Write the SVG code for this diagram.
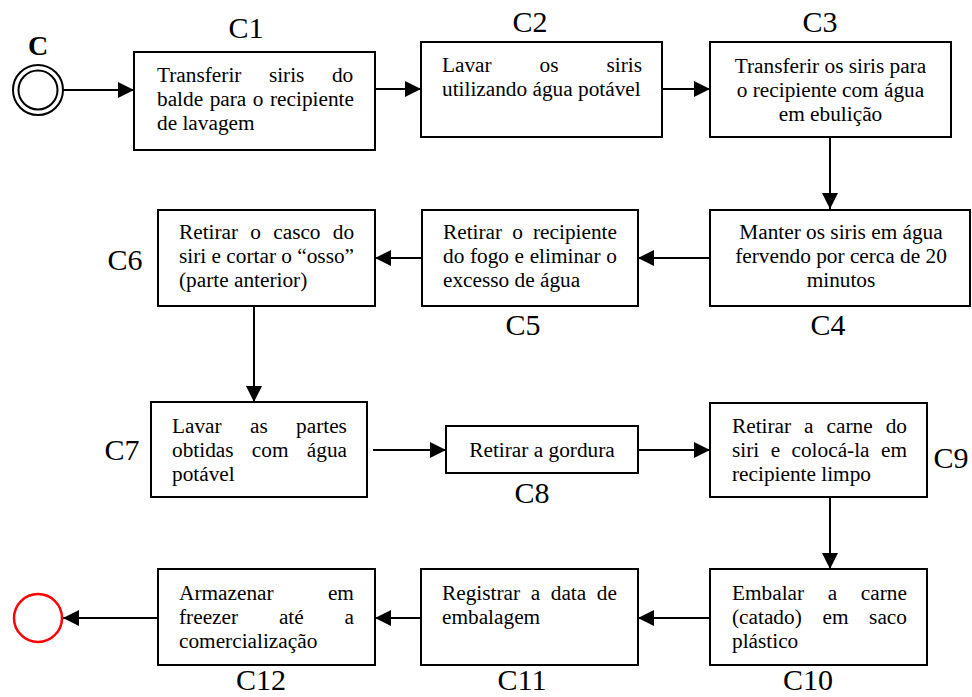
<svg xmlns="http://www.w3.org/2000/svg" width="972" height="697" viewBox="0 0 972 697">
<style>
.box{fill:#fff;stroke:#000;stroke-width:2}
.t{font-family:"Liberation Serif","Times New Roman",serif;font-size:21.3px;fill:#000}
.c{text-anchor:middle}
.lbl{font-family:"Liberation Serif","Times New Roman",serif;font-size:30px;fill:#000;text-anchor:middle}
.con{stroke:#000;stroke-width:2;fill:none;marker-end:url(#ah)}
</style>
<defs>
<marker id="ah" markerUnits="userSpaceOnUse" markerWidth="17" markerHeight="16" refX="16" refY="8" orient="auto">
<path d="M0,0 L16,8 L0,16 Z" fill="#000"/>
</marker>
</defs>
<rect width="972" height="697" fill="#fff"/>

<g id="start">
<circle cx="38" cy="90" r="25" fill="#fff" stroke="#000" stroke-width="2"/>
<circle cx="38" cy="90" r="19.5" fill="none" stroke="#000" stroke-width="2"/>
<text x="38" y="55" style="font-family:'Liberation Serif',serif;font-size:28px;font-weight:bold;text-anchor:middle">C</text>
</g>

<g id="end">
<circle cx="38" cy="618" r="24" fill="#fff" stroke="#ff0000" stroke-width="2.5"/>
</g>

<g id="connectors">
<line class="con" x1="64" y1="90" x2="134" y2="90"/>
<line class="con" x1="375" y1="89" x2="421" y2="89"/>
<line class="con" x1="662" y1="89" x2="710" y2="89"/>
<line class="con" x1="830" y1="137" x2="830" y2="209"/>
<line class="con" x1="710" y1="258" x2="638" y2="258"/>
<line class="con" x1="422" y1="258" x2="375" y2="258"/>
<line class="con" x1="254" y1="306" x2="254" y2="402"/>
<line class="con" x1="373" y1="450" x2="446" y2="450"/>
<line class="con" x1="638" y1="450" x2="710" y2="450"/>
<line class="con" x1="830" y1="497" x2="830" y2="569"/>
<line class="con" x1="710" y1="618" x2="638" y2="618"/>
<line class="con" x1="421" y1="618" x2="375" y2="618"/>
<line class="con" x1="158" y1="618" x2="63" y2="618"/>
</g>

<g id="C1">
<rect class="box" x="134" y="52" width="241" height="98"/>
<text class="t" x="157" y="82" word-spacing="22.2">Transferir siris do</text>
<text class="t" x="157" y="106" word-spacing="1.2">balde para o recipiente</text>
<text class="t" x="157" y="130">de lavagem</text>
<text class="lbl" x="246" y="38">C1</text>
</g>

<g id="C2">
<rect class="box" x="421" y="42" width="241" height="95"/>
<text class="t" x="442" y="72" word-spacing="42.6">Lavar os siris</text>
<text class="t" x="442" y="96">utilizando água potável</text>
<text class="lbl" x="530" y="32">C2</text>
</g>

<g id="C3">
<rect class="box" x="710" y="42" width="241" height="95"/>
<text class="t c" x="830.5" y="73">Transferir os siris para</text>
<text class="t c" x="830.5" y="97">o recipiente com água</text>
<text class="t c" x="830.5" y="121">em ebulição</text>
<text class="lbl" x="820" y="32">C3</text>
</g>

<g id="C4">
<rect class="box" x="710" y="210" width="260" height="96"/>
<text class="t c" x="841" y="239">Manter os siris em água</text>
<text class="t c" x="841" y="263">fervendo por cerca de 20</text>
<text class="t c" x="841" y="287">minutos</text>
<text class="lbl" x="828" y="335">C4</text>
</g>

<g id="C5">
<rect class="box" x="422" y="210" width="216" height="96"/>
<text class="t" x="443" y="239" word-spacing="4.8">Retirar o recipiente</text>
<text class="t" x="443" y="263" word-spacing="0.3">do fogo e eliminar o</text>
<text class="t" x="443" y="287">excesso de água</text>
<text class="lbl" x="523" y="335">C5</text>
</g>

<g id="C6">
<rect class="box" x="158" y="210" width="217" height="96"/>
<text class="t" x="179" y="239" word-spacing="6.9">Retirar o casco do</text>
<text class="t" x="179" y="263">siri e cortar o “osso”</text>
<text class="t" x="179" y="287">(parte anterior)</text>
<text class="lbl" x="125" y="270">C6</text>
</g>

<g id="C7">
<rect class="box" x="151" y="402" width="216" height="95"/>
<text class="t" x="172" y="433" word-spacing="23">Lavar as partes</text>
<text class="t" x="172" y="457" word-spacing="13">obtidas com água</text>
<text class="t" x="172" y="481">potável</text>
<text class="lbl" x="122" y="460">C7</text>
</g>

<g id="C8">
<rect class="box" x="446" y="426" width="192" height="47"/>
<text class="t c" x="542" y="457">Retirar a gordura</text>
<text class="lbl" x="532" y="503">C8</text>
</g>

<g id="C9">
<rect class="box" x="710" y="403" width="217" height="94"/>
<text class="t" x="732" y="433" word-spacing="7.67">Retirar a carne do</text>
<text class="t" x="732" y="457" word-spacing="6.1">siri e colocá-la em</text>
<text class="t" x="732" y="481">recipiente limpo</text>
<text class="lbl" x="951" y="468">C9</text>
</g>

<g id="C10">
<rect class="box" x="710" y="569" width="217" height="96"/>
<text class="t" x="732" y="600" word-spacing="18.3">Embalar a carne</text>
<text class="t" x="732" y="624" word-spacing="15.35">(catado) em saco</text>
<text class="t" x="732" y="648">plástico</text>
<text class="lbl" x="808" y="690">C10</text>
</g>

<g id="C11">
<rect class="box" x="421" y="569" width="217" height="96"/>
<text class="t" x="442" y="600" word-spacing="5.3">Registrar a data de</text>
<text class="t" x="442" y="624">embalagem</text>
<text class="lbl" x="522" y="690">C11</text>
</g>

<g id="C12">
<rect class="box" x="158" y="569" width="217" height="96"/>
<text class="t" x="179" y="600" word-spacing="49">Armazenar em</text>
<text class="t" x="179" y="624" word-spacing="35.5">freezer até a</text>
<text class="t" x="179" y="648">comercialização</text>
<text class="lbl" x="261" y="690">C12</text>
</g>
</svg>
